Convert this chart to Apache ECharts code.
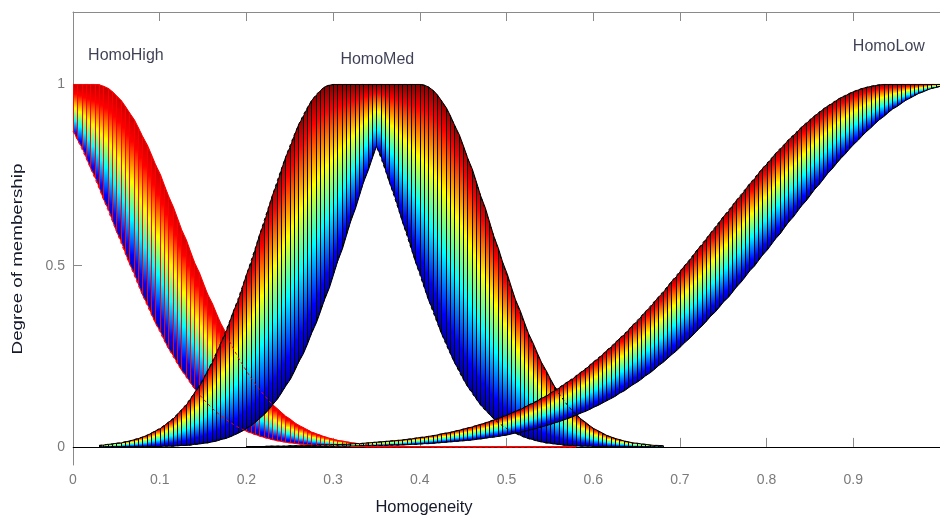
<!DOCTYPE html>
<html>
<head>
<meta charset="utf-8">
<title>Homogeneity membership functions</title>
<script src="https://cdn.jsdelivr.net/npm/echarts@6/dist/echarts.min.js"></script>
<style>
  html, body { margin: 0; padding: 0; background: #ffffff; }
  #chart { width: 940px; height: 517px; }
</style>
</head>
<body>
<div id="chart"></div>
<script>
// Sampling step of the membership functions along the Homogeneity axis.
const STEP = 0.005;

// HomoHigh, sampled from x = 0 to 0.58
const highStartX = 0;
const homoHighUpper = [
  1, 1, 1, 1, 1, 1, 0.999, 0.995, 0.989, 0.980,
  0.969, 0.955, 0.939, 0.922, 0.902, 0.880, 0.857, 0.832, 0.806, 0.779,
  0.751, 0.721, 0.692, 0.661, 0.631, 0.600, 0.570, 0.539, 0.509, 0.480,
  0.451, 0.422, 0.395, 0.368, 0.342, 0.317, 0.294, 0.271, 0.249, 0.229,
  0.210, 0.191, 0.174, 0.159, 0.144, 0.130, 0.117, 0.105, 0.095, 0.085,
  0.076, 0.067, 0.060, 0.053, 0.047, 0.041, 0.036, 0.032, 0.028, 0.024,
  0.021, 0.018, 0.016, 0.014, 0.012, 0.010, 0.009, 0.007, 0.006, 0.005,
  0.005, 0.004, 0.003, 0.003, 0.002, 0.002, 0.002, 0.001, 0.001, 0.001,
  0.001, 0.001, 0.001, 0, 0, 0, 0, 0, 0, 0,
  0, 0, 0, 0, 0, 0, 0, 0, 0, 0,
  0, 0, 0, 0, 0, 0, 0, 0, 0, 0,
  0, 0, 0, 0, 0, 0, 0
];
const homoHighLower = [
  0.871, 0.848, 0.823, 0.797, 0.770, 0.742, 0.714, 0.684, 0.655, 0.625,
  0.595, 0.565, 0.535, 0.506, 0.477, 0.448, 0.420, 0.393, 0.367, 0.342,
  0.318, 0.294, 0.272, 0.251, 0.231, 0.212, 0.194, 0.177, 0.161, 0.146,
  0.133, 0.120, 0.108, 0.097, 0.087, 0.078, 0.070, 0.062, 0.055, 0.049,
  0.043, 0.038, 0.034, 0.030, 0.026, 0.023, 0.020, 0.017, 0.015, 0.013,
  0.011, 0.010, 0.008, 0.007, 0.006, 0.005, 0.004, 0.004, 0.003, 0.003,
  0.002, 0.002, 0.002, 0.001, 0.001, 0.001, 0.001, 0.001, 0, 0,
  0, 0, 0, 0, 0, 0, 0, 0, 0, 0,
  0, 0, 0, 0, 0, 0, 0, 0, 0, 0,
  0, 0, 0, 0, 0, 0, 0, 0, 0, 0,
  0, 0, 0, 0, 0, 0, 0, 0, 0, 0,
  0, 0, 0, 0, 0, 0, 0
];

// HomoMed, sampled from x = 0.03 to 0.68
const medStartX = 0.03;
const homoMedUpper = [
  0.004, 0.005, 0.007, 0.008, 0.010, 0.011, 0.014, 0.016, 0.020, 0.023,
  0.027, 0.032, 0.038, 0.044, 0.051, 0.059, 0.068, 0.078, 0.090, 0.102,
  0.116, 0.132, 0.149, 0.167, 0.187, 0.209, 0.233, 0.258, 0.284, 0.313,
  0.343, 0.374, 0.406, 0.440, 0.475, 0.511, 0.547, 0.584, 0.621, 0.658,
  0.694, 0.730, 0.765, 0.798, 0.830, 0.860, 0.888, 0.913, 0.935, 0.955,
  0.971, 0.983, 0.993, 0.998,
  1, 1, 1, 1, 1, 1, 1, 1, 1, 1, 1, 1, 1, 1, 1, 1, 1, 1, 1, 1, 1,
  0.998, 0.993, 0.983, 0.971, 0.955, 0.935, 0.913, 0.888, 0.860, 0.830,
  0.798, 0.765, 0.730, 0.694, 0.658, 0.621, 0.584, 0.547, 0.511, 0.475,
  0.440, 0.406, 0.374, 0.343, 0.313, 0.284, 0.258, 0.233, 0.209, 0.187,
  0.167, 0.149, 0.132, 0.116, 0.102, 0.090, 0.078, 0.068, 0.059, 0.051,
  0.044, 0.038, 0.032, 0.027, 0.023, 0.020, 0.016, 0.014, 0.011, 0.010,
  0.008, 0.007, 0.005, 0.004, 0.004, 0.003
];
const homoMedLower = [
  0, 0, 0, 0, 0, 0, 0, 0, 0, 0,
  0, 0.001, 0.001, 0.001, 0.001, 0.002, 0.002, 0.002, 0.003, 0.004,
  0.004, 0.005,
  0.007, 0.008, 0.010, 0.011, 0.014, 0.016, 0.020, 0.023, 0.027, 0.032,
  0.038, 0.044, 0.051, 0.059, 0.068, 0.078, 0.090, 0.102, 0.116, 0.132,
  0.149, 0.167, 0.187, 0.209, 0.233, 0.258, 0.284, 0.313, 0.343, 0.374,
  0.406, 0.440, 0.475, 0.511, 0.547, 0.584, 0.621, 0.658, 0.694, 0.730,
  0.765, 0.798, 0.830,
  0.798, 0.765, 0.730, 0.694, 0.658, 0.621, 0.584, 0.547, 0.511, 0.475,
  0.440, 0.406, 0.374, 0.343, 0.313, 0.284, 0.258, 0.233, 0.209, 0.187,
  0.167, 0.149, 0.132, 0.116, 0.102, 0.090, 0.078, 0.068, 0.059, 0.051,
  0.044, 0.038, 0.032, 0.027, 0.023, 0.020, 0.016, 0.014, 0.011, 0.010,
  0.008, 0.007, 0.005, 0.004, 0.004, 0.003, 0.002, 0.002, 0.002, 0.001,
  0.001, 0.001, 0.001,
  0, 0, 0, 0, 0, 0, 0, 0, 0, 0, 0, 0, 0
];

// HomoLow, sampled from x = 0.2 to 1
const lowStartX = 0.2;
const homoLowUpper = [
  0.001, 0.001, 0.001, 0.001, 0.001, 0.002, 0.002, 0.002, 0.002, 0.002,
  0.003, 0.003, 0.003, 0.003, 0.004, 0.004, 0.004, 0.005, 0.005, 0.005,
  0.006, 0.006, 0.007, 0.007, 0.008, 0.009, 0.009,
  0.010, 0.011, 0.012, 0.013, 0.014, 0.015, 0.016, 0.017, 0.018, 0.019,
  0.021, 0.022, 0.024, 0.026, 0.027, 0.029, 0.031, 0.033, 0.036, 0.038,
  0.040, 0.043, 0.046, 0.049, 0.052, 0.055, 0.059, 0.062, 0.066, 0.070,
  0.074, 0.078, 0.083, 0.088, 0.093, 0.098, 0.103, 0.109, 0.115, 0.121,
  0.127, 0.134, 0.140, 0.148, 0.155, 0.163, 0.171, 0.179, 0.187, 0.196,
  0.205, 0.214, 0.224, 0.234, 0.244, 0.254, 0.265, 0.276, 0.287, 0.299,
  0.310, 0.322, 0.335, 0.347, 0.360, 0.373, 0.386, 0.400, 0.413, 0.427,
  0.441, 0.456, 0.470, 0.485, 0.499, 0.514, 0.529, 0.544, 0.559, 0.574,
  0.589, 0.605, 0.620, 0.635, 0.650, 0.665, 0.680, 0.695, 0.710, 0.725,
  0.739, 0.754, 0.768, 0.782, 0.795, 0.809, 0.822, 0.834, 0.847, 0.859,
  0.870, 0.882, 0.893, 0.903, 0.913, 0.923, 0.932, 0.940, 0.948, 0.956,
  0.963, 0.969, 0.975, 0.980, 0.985, 0.989, 0.992, 0.995, 0.997, 0.999,
  1, 1,
  1, 1, 1, 1, 1, 1, 1, 1, 1, 1, 1, 1
];
const homoLowLower = [
  0, 0, 0, 0, 0, 0, 0, 0, 0,
  0.001, 0.001, 0.001, 0.001, 0.001, 0.001, 0.001, 0.001, 0.001, 0.001, 0.001, 0.001,
  0.002, 0.002, 0.002, 0.002, 0.002, 0.003, 0.003, 0.003, 0.003,
  0.004, 0.004, 0.004, 0.005, 0.005, 0.005, 0.006, 0.006, 0.007, 0.007,
  0.008, 0.009, 0.009,
  0.010, 0.011, 0.012, 0.013, 0.014, 0.015, 0.016, 0.017, 0.018, 0.019,
  0.021, 0.022, 0.024, 0.026, 0.027, 0.029, 0.031, 0.033, 0.036, 0.038,
  0.040, 0.043, 0.046, 0.049, 0.052, 0.055, 0.059, 0.062, 0.066, 0.070,
  0.074, 0.078, 0.083, 0.088, 0.093, 0.098, 0.103, 0.109, 0.115, 0.121,
  0.127, 0.134, 0.140, 0.148, 0.155, 0.163, 0.171, 0.179, 0.187, 0.196,
  0.205, 0.214, 0.224, 0.234, 0.244, 0.254, 0.265, 0.276, 0.287, 0.299,
  0.310, 0.322, 0.335, 0.347, 0.360, 0.373, 0.386, 0.400, 0.413, 0.427,
  0.441, 0.456, 0.470, 0.485, 0.499, 0.514, 0.529, 0.544, 0.559, 0.574,
  0.589, 0.605, 0.620, 0.635, 0.650, 0.665, 0.680, 0.695, 0.710, 0.725,
  0.739, 0.754, 0.768, 0.782, 0.795, 0.809, 0.822, 0.834, 0.847, 0.859,
  0.870, 0.882, 0.893, 0.903, 0.913, 0.923, 0.932, 0.940, 0.948, 0.956,
  0.963, 0.969, 0.975, 0.980, 0.985, 0.989, 0.992, 0.995
];

// Set names and the data points where each name is written.
const mfNames = ['HomoHigh', 'HomoMed', 'HomoLow'];
const nameAnchorX = [0.061, 0.351, 0.941];
const nameAnchorY = [1.079, 1.070, 1.105];

// Axis ticks
const yTickValues = [0, 0.5, 1];

const FONT = '"Liberation Sans", Arial, Helvetica, sans-serif';
const AXIS_GREY = '#8a8a8a';
const LABEL_GREY = '#7a7a7a';

// Jet colour ramp, top of a strip (upper membership) to bottom (lower membership).
const JET_STOPS = [
  [0, '#800000'], [0.125, '#ff0000'], [0.375, '#ffff00'],
  [0.625, '#00ffff'], [0.875, '#0000ff'], [1, '#00008f']
];
// HomoHigh strips stay red a little longer before turning to yellow and blue.
const HIGH_STOPS = [
  [0, '#c00000'], [0.18, '#ff0000'], [0.43, '#ffff00'],
  [0.66, '#00ffff'], [0.88, '#0000ff'], [1, '#00008f']
];
function ramp(stops) {
  return new echarts.graphic.LinearGradient(0, 0, 0, 1,
    stops.map(s => ({ offset: s[0], color: s[1] })));
}

// Footprint of uncertainty drawn as narrow vertical strips between lower and upper MF.
function fouSeries(name, startX, upper, lower, edgeColor, stops, z) {
  const data = [];
  for (let i = 0; i < upper.length - 1; i++) {
    data.push([startX + i * STEP, startX + (i + 1) * STEP,
               lower[i], upper[i], lower[i + 1], upper[i + 1]]);
  }
  const fill = ramp(stops);
  return {
    type: 'custom',
    name: name,
    z: z,
    silent: true,
    clip: true,
    encode: { x: [0, 1], y: [2, 3, 4, 5] },
    data: data,
    renderItem: function (params, api) {
      const a = api.coord([api.value(0), api.value(3)]);
      const b = api.coord([api.value(1), api.value(5)]);
      const c = api.coord([api.value(1), api.value(4)]);
      const d = api.coord([api.value(0), api.value(2)]);
      // keep strip borders on the pixel grid so the separators stay crisp
      const xl = Math.round(a[0]) + 0.5;
      const xr = Math.round(b[0]) + 0.5;
      const h = Math.max(d[1] - a[1], c[1] - b[1]);
      return {
        type: 'polygon',
        shape: { points: [[xl, a[1]], [xr, b[1]], [xr, c[1]], [xl, d[1]]] },
        style: { fill: h > 0.8 ? fill : edgeColor, stroke: edgeColor, lineWidth: 1 }
      };
    }
  };
}

// Boundary line of an MF, dashed so it shows through the strips above it.
function edgeSeries(startX, values, color, z) {
  return {
    type: 'line',
    silent: true,
    z: z,
    symbol: 'none',
    showSymbol: false,
    clip: true,
    data: values.map((v, i) => [startX + i * STEP, v]),
    lineStyle: { color: color, width: 1, type: [3, 3] }
  };
}

// Flat tail of HomoHigh lying on the zero level
const highTail = [];
homoHighLower.forEach((v, i) => {
  if (homoHighUpper[i] <= 0.012) highTail.push([highStartX + i * STEP, v]);
});

const chart = echarts.init(document.getElementById('chart'), null, { renderer: 'canvas' });

const option = {
  animation: false,
  backgroundColor: '#ffffff',
  grid: { left: 73, right: 0, top: 12, bottom: 52 },
  xAxis: [
    {
      type: 'value', position: 'bottom', min: 0, max: 1, interval: 0.1,
      axisLine: { show: true, lineStyle: { color: AXIS_GREY, width: 1 } },
      axisTick: { show: true, inside: true, length: 9, lineStyle: { color: AXIS_GREY } },
      axisLabel: { color: LABEL_GREY, fontSize: 14, fontFamily: FONT, margin: 8, showMaxLabel: false },
      splitLine: { show: false }
    },
    {
      type: 'value', position: 'top', min: 0, max: 1, interval: 0.1,
      axisLine: { show: true, onZero: false, lineStyle: { color: AXIS_GREY, width: 1 } },
      axisTick: { show: true, inside: true, length: 9, lineStyle: { color: AXIS_GREY } },
      axisLabel: { show: false },
      splitLine: { show: false }
    }
  ],
  yAxis: {
    type: 'value', min: -0.05, max: 1.2,
    axisLine: { show: true, onZero: false, lineStyle: { color: AXIS_GREY, width: 1 } },
    axisTick: { show: true, inside: true, length: 9, customValues: yTickValues, lineStyle: { color: AXIS_GREY } },
    axisLabel: {
      color: LABEL_GREY, fontSize: 14, fontFamily: FONT, margin: 8,
      customValues: yTickValues, formatter: v => String(v)
    },
    splitLine: { show: false }
  },
  series: [
    // zero level
    {
      type: 'line', data: [], z: 1, silent: true,
      markLine: {
        silent: true, symbol: 'none', animation: false,
        label: { show: false },
        lineStyle: { color: '#000000', width: 1, type: 'solid' },
        data: [{ yAxis: 0 }]
      }
    },
    fouSeries('HomoHigh', highStartX, homoHighUpper, homoHighLower, '#ff0000', HIGH_STOPS, 2),
    fouSeries('HomoMed', medStartX, homoMedUpper, homoMedLower, '#000000', JET_STOPS, 3),
    fouSeries('HomoLow', lowStartX, homoLowUpper, homoLowLower, '#000000', JET_STOPS, 4),
    edgeSeries(highStartX, homoHighUpper, '#ff0000', 5),
    edgeSeries(highStartX, homoHighLower, '#ff0000', 5),
    edgeSeries(medStartX, homoMedUpper, '#000000', 5),
    edgeSeries(medStartX, homoMedLower, '#000000', 5),
    edgeSeries(lowStartX, homoLowUpper, '#000000', 5),
    edgeSeries(lowStartX, homoLowLower, '#000000', 5),
    {
      type: 'line', silent: true, z: 6, symbol: 'none', showSymbol: false,
      data: highTail, lineStyle: { color: '#ff0000', width: 1.2 }
    },
    // set names
    {
      type: 'scatter', silent: true, z: 10, symbolSize: 0,
      data: mfNames.map((n, i) => ({ name: n, value: [nameAnchorX[i], nameAnchorY[i]] })),
      label: {
        show: true, position: 'inside', formatter: '{b}',
        color: '#0d1029', fontSize: 16, fontFamily: FONT
      }
    }
  ],
  graphic: [
    {
      type: 'text', x: 424, y: 507, silent: true,
      style: {
        text: 'Homogeneity', fill: '#151a2a', fontSize: 16.5, fontFamily: FONT,
        align: 'center', verticalAlign: 'middle'
      }
    },
    {
      type: 'text', x: 18, y: 259, rotation: Math.PI / 2, scaleX: 1.34, silent: true,
      style: {
        text: 'Degree of membership', fill: '#151a2a', fontSize: 14, fontFamily: FONT,
        align: 'center', verticalAlign: 'middle'
      }
    }
  ]
};

chart.setOption(option);
</script>
</body>
</html>
